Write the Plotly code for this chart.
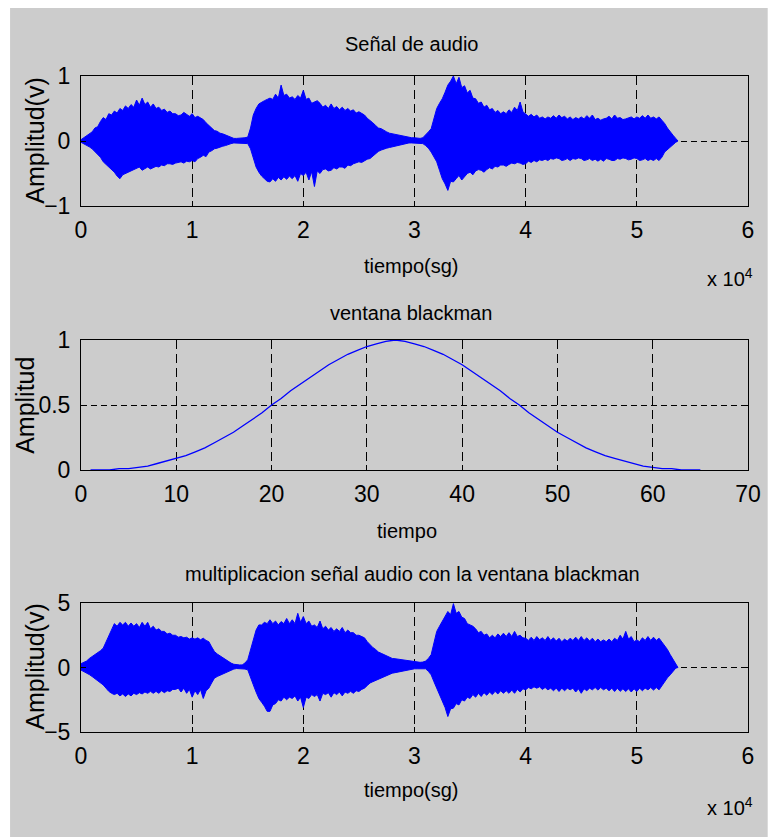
import plotly.graph_objects as go

# ---------------- data ----------------
# sample positions of the envelope readings (every 250 samples, last sample 53700)
audio_x = list(range(0, 53501, 250)) + [53700]

# audio signal: upper / lower peak envelope
audio_hi = [0.02, 0.05, 0.08, 0.12, 0.14, 0.20, 0.22, 0.30, 0.36, 0.33, 0.42, 0.40, 0.46, 0.43,
            0.50, 0.47, 0.54, 0.50, 0.56, 0.52, 0.63, 0.55, 0.66, 0.56, 0.60, 0.52, 0.57, 0.50,
            0.52, 0.47, 0.49, 0.44, 0.46, 0.42, 0.42, 0.39, 0.40, 0.44, 0.41, 0.38, 0.42, 0.36,
            0.38, 0.36, 0.33, 0.28, 0.24, 0.20, 0.16, 0.15, 0.12, 0.11, 0.09, 0.07, 0.05, 0.04,
            0.04, 0.04, 0.04, 0.05, 0.06, 0.20, 0.40, 0.50, 0.57, 0.60, 0.62, 0.64, 0.66, 0.64,
            0.72, 0.66, 0.86, 0.70, 0.72, 0.66, 0.68, 0.64, 0.70, 0.66, 0.78, 0.64, 0.66, 0.58,
            0.60, 0.62, 0.58, 0.52, 0.55, 0.50, 0.57, 0.50, 0.53, 0.48, 0.52, 0.47, 0.50, 0.46,
            0.48, 0.43, 0.45, 0.42, 0.40, 0.35, 0.32, 0.28, 0.24, 0.20, 0.19, 0.16, 0.14, 0.12,
            0.11, 0.10, 0.09, 0.08, 0.08, 0.07, 0.06, 0.05, 0.05, 0.04, 0.04, 0.05, 0.09, 0.14,
            0.19, 0.35, 0.50, 0.58, 0.65, 0.75, 0.86, 0.92, 1.00, 0.88, 0.98, 0.82, 0.85, 0.74,
            0.78, 0.66, 0.65, 0.58, 0.60, 0.52, 0.55, 0.48, 0.50, 0.44, 0.47, 0.42, 0.45, 0.42,
            0.48, 0.44, 0.52, 0.47, 0.60, 0.45, 0.42, 0.38, 0.41, 0.37, 0.40, 0.35, 0.37, 0.34,
            0.37, 0.35, 0.39, 0.35, 0.40, 0.36, 0.38, 0.34, 0.37, 0.33, 0.36, 0.34, 0.37, 0.34,
            0.39, 0.35, 0.40, 0.33, 0.35, 0.32, 0.34, 0.35, 0.38, 0.34, 0.40, 0.35, 0.36, 0.33,
            0.34, 0.35, 0.37, 0.34, 0.37, 0.35, 0.39, 0.35, 0.40, 0.35, 0.37, 0.34, 0.37, 0.32,
            0.27, 0.20, 0.14, 0.09, 0.04, 0.00]
audio_lo = [-0.02, -0.04, -0.06, -0.09, -0.12, -0.16, -0.20, -0.25, -0.32, -0.36, -0.40, -0.44,
            -0.48, -0.54, -0.58, -0.52, -0.50, -0.48, -0.47, -0.44, -0.43, -0.40, -0.45, -0.42,
            -0.40, -0.43, -0.41, -0.39, -0.40, -0.37, -0.38, -0.35, -0.35, -0.36, -0.34, -0.33,
            -0.32, -0.34, -0.31, -0.32, -0.30, -0.32, -0.27, -0.25, -0.22, -0.24, -0.17, -0.15,
            -0.12, -0.11, -0.09, -0.08, -0.07, -0.05, -0.04, -0.03, -0.03, -0.03, -0.03, -0.03,
            -0.04, -0.12, -0.27, -0.40, -0.48, -0.54, -0.58, -0.62, -0.63, -0.58, -0.62, -0.56,
            -0.60, -0.55, -0.59, -0.54, -0.58, -0.53, -0.62, -0.50, -0.53, -0.48, -0.60, -0.47,
            -0.70, -0.46, -0.50, -0.44, -0.43, -0.46, -0.45, -0.41, -0.43, -0.40, -0.40, -0.42,
            -0.37, -0.38, -0.35, -0.33, -0.32, -0.33, -0.30, -0.28, -0.27, -0.23, -0.20, -0.16,
            -0.14, -0.12, -0.11, -0.10, -0.09, -0.07, -0.06, -0.05, -0.04, -0.04, -0.03, -0.03,
            -0.03, -0.03, -0.03, -0.04, -0.07, -0.11, -0.17, -0.25, -0.32, -0.45, -0.58, -0.66,
            -0.76, -0.62, -0.63, -0.58, -0.53, -0.60, -0.55, -0.50, -0.48, -0.52, -0.46, -0.44,
            -0.45, -0.48, -0.44, -0.41, -0.43, -0.39, -0.40, -0.37, -0.37, -0.39, -0.36, -0.34,
            -0.35, -0.33, -0.34, -0.36, -0.35, -0.31, -0.33, -0.30, -0.32, -0.29, -0.30, -0.28,
            -0.30, -0.27, -0.28, -0.26, -0.27, -0.30, -0.29, -0.27, -0.30, -0.27, -0.28, -0.26,
            -0.27, -0.30, -0.29, -0.27, -0.30, -0.28, -0.31, -0.28, -0.31, -0.27, -0.28, -0.30,
            -0.30, -0.27, -0.28, -0.26, -0.27, -0.29, -0.28, -0.26, -0.27, -0.30, -0.29, -0.27,
            -0.30, -0.28, -0.30, -0.27, -0.30, -0.25, -0.17, -0.13, -0.09, -0.05, -0.02, 0.00]

# blackman window samples
win_x = list(range(1, 66))
win_y = [0.00, 0.00, 0.00, 0.01, 0.01, 0.02, 0.03, 0.05, 0.07, 0.09, 0.11, 0.14, 0.17,
         0.21, 0.25, 0.29, 0.34, 0.39, 0.44, 0.50, 0.55, 0.61, 0.66, 0.71, 0.76, 0.81,
         0.85, 0.89, 0.92, 0.95, 0.97, 0.99, 1.00, 0.99, 0.97, 0.95, 0.92, 0.89, 0.85,
         0.81, 0.76, 0.71, 0.66, 0.61, 0.55, 0.50, 0.44, 0.39, 0.34, 0.29, 0.25, 0.21,
         0.17, 0.14, 0.11, 0.09, 0.07, 0.05, 0.03, 0.02, 0.01, 0.01, 0.00, 0.00, 0.00]

# audio x window: upper / lower peak envelope
mult_hi = [0.3, 0.4, 0.5, 0.7, 0.85, 0.95, 1.1, 1.3, 1.5, 2.0, 2.5, 3.0, 3.4, 3.2, 3.5, 3.3,
           3.5, 3.2, 3.45, 3.2, 3.4, 3.1, 3.5, 3.2, 3.5, 3.0, 3.2, 2.9, 3.0, 2.8, 2.8, 2.6,
           2.66, 2.5, 2.5, 2.35, 2.4, 2.3, 2.35, 2.2, 2.3, 2.2, 2.3, 2.15, 2.27, 2.1, 2.0, 1.6,
           1.24, 1.05, 0.9, 0.75, 0.6, 0.45, 0.34, 0.25, 0.2, 0.2, 0.2, 0.35, 0.6, 1.4,
           2.27, 2.9, 3.3, 3.3, 3.5, 3.4, 3.7, 3.4, 3.6, 3.3, 3.56, 3.4, 3.8, 3.4,
           3.7, 3.4, 4.2, 3.5, 3.95, 3.4, 3.6, 3.2, 3.3, 3.1, 3.6, 3.0, 3.2, 2.9,
           3.1, 2.8, 3.0, 2.8, 3.1, 2.7, 2.9, 2.7, 2.7, 2.5, 2.5, 2.4, 2.3, 2.0,
           1.75, 1.55, 1.4, 1.2, 1.1, 1.0, 0.9, 0.8, 0.7, 0.68, 0.65, 0.62, 0.6, 0.55,
           0.5, 0.48, 0.47, 0.42, 0.4, 0.42, 0.5, 0.7, 1.0, 1.9, 2.8, 3.2, 3.56, 4.0,
           4.34, 4.1, 4.95, 4.2, 4.34, 3.9, 3.8, 3.4, 3.3, 3.2, 3.0, 2.7, 2.8, 2.5,
           2.6, 2.3, 2.5, 2.3, 2.6, 2.4, 2.66, 2.4, 2.7, 2.4, 2.8, 2.4, 2.5, 2.3,
           2.27, 2.1, 2.35, 2.1, 2.4, 2.15, 2.3, 2.1, 2.4, 2.1, 2.3, 2.05, 2.27, 2.0,
           2.2, 2.05, 2.27, 2.1, 2.35, 2.1, 2.4, 2.1, 2.3, 2.05, 2.27, 2.0, 2.2, 2.0,
           2.14, 2.0, 2.2, 2.0, 2.27, 2.1, 2.5, 2.2, 2.8, 2.2, 2.4, 2.0, 2.14, 2.0,
           2.3, 2.1, 2.4, 2.1, 2.35, 2.1, 2.27, 2.0, 1.75, 1.4, 1.0, 0.6, 0.2, 0.0]
mult_lo = [-0.2, -0.3, -0.4, -0.55, -0.7, -0.85, -1.0, -1.15, -1.35, -1.6, -1.85, -2.0, -2.1,
           -2.0, -2.2, -2.05, -2.25, -2.05, -2.2, -2.0, -2.1, -1.95, -2.05, -1.9, -2.0, -1.85,
           -2.0, -1.85, -2.0, -1.8, -1.95, -1.8, -1.86, -1.7, -1.7, -1.6, -1.9, -1.6, -2.0,
           -1.7, -2.3, -1.8, -2.1, -1.7, -2.4, -1.8, -1.6, -1.2, -0.83, -0.7, -0.6, -0.5,
           -0.44, -0.3, -0.18, -0.12, -0.08, -0.08, -0.08, -0.12, -0.18, -0.7, -1.34, -1.9,
           -2.4, -2.7, -3.0, -3.4, -3.4, -2.9, -2.8, -2.5, -2.6, -2.3, -2.5, -2.3, -2.4,
           -2.2, -2.6, -2.3, -3.1, -2.3, -2.4, -2.1, -2.25, -2.1, -2.6, -2.0, -2.1, -1.95,
           -2.3, -1.95, -2.1, -1.9, -2.2, -1.9, -2.0, -1.85, -2.0, -1.8, -1.86, -1.7, -1.6,
           -1.4, -1.2, -1.1, -1.0, -0.9, -0.83, -0.7, -0.6, -0.5, -0.44, -0.4, -0.35, -0.33,
           -0.31, -0.25, -0.2, -0.15, -0.1, -0.1, -0.1, -0.1, -0.1, -0.3, -0.57, -1.1, -1.6,
           -2.1, -2.6, -3.1, -3.8, -3.2, -3.15, -2.8, -2.9, -2.5, -2.6, -2.3, -2.4, -2.1,
           -2.3, -2.0, -2.25, -1.95, -2.15, -1.9, -2.1, -1.85, -2.05, -1.8, -2.0, -1.8, -2.0,
           -1.75, -2.0, -1.7, -1.9, -1.65, -1.73, -1.55, -1.65, -1.5, -1.6, -1.5, -1.7, -1.55,
           -1.73, -1.6, -1.8, -1.6, -1.86, -1.6, -1.8, -1.6, -1.73, -1.6, -1.9, -1.65, -2.0,
           -1.65, -1.8, -1.6, -1.73, -1.55, -1.75, -1.55, -1.73, -1.6, -1.8, -1.6, -1.86,
           -1.6, -1.85, -1.65, -1.86, -1.65, -1.9, -1.65, -1.86, -1.6, -1.8, -1.6, -1.73,
           -1.55, -1.75, -1.55, -1.73, -1.4, -1.08, -0.8, -0.57, -0.3, -0.05, 0.0]

# tick labels
big_tickvals = [0, 10000, 20000, 30000, 40000, 50000, 60000]
big_ticktext = ["0", "1", "2", "3", "4", "5", "6"]
win_tickvals = [0, 10, 20, 30, 40, 50, 60, 70]

titles = ["Señal de audio", "ventana blackman",
          "multiplicacion señal audio con la ventana blackman"]

# ---------------- figure ----------------
W, H = 773, 837
ML, MR, MT, MB = 81, 15, 76, 105
PW, PH = W - ML - MR, H - MT - MB
BLUE = "#0000ff"
GRAY = "#cccccc"
FONT = "Liberation Sans Narrow, Arial Narrow, Liberation Sans, Arial, sans-serif"


def px(x):
    return (x - ML) / PW


def py(y):
    return (H - MB - y) / PH


fig = go.Figure()

# subplot 1 : audio
fig.add_trace(go.Scatter(x=audio_x, y=audio_hi, mode="lines", line=dict(color=BLUE, width=1),
                         xaxis="x", yaxis="y", showlegend=False, hoverinfo="skip"))
fig.add_trace(go.Scatter(x=audio_x, y=audio_lo, mode="lines", line=dict(color=BLUE, width=1),
                         fill="tonexty", fillcolor=BLUE,
                         xaxis="x", yaxis="y", showlegend=False, hoverinfo="skip"))
# subplot 2 : window
fig.add_trace(go.Scatter(x=win_x, y=win_y, mode="lines", line=dict(color=BLUE, width=1.3),
                         xaxis="x2", yaxis="y2", showlegend=False))
# subplot 3 : product
fig.add_trace(go.Scatter(x=audio_x, y=mult_hi, mode="lines", line=dict(color=BLUE, width=1),
                         xaxis="x3", yaxis="y3", showlegend=False, hoverinfo="skip"))
fig.add_trace(go.Scatter(x=audio_x, y=mult_lo, mode="lines", line=dict(color=BLUE, width=1),
                         fill="tonexty", fillcolor=BLUE,
                         xaxis="x3", yaxis="y3", showlegend=False, hoverinfo="skip"))

tickfont = dict(family=FONT, size=23, color="black")
common = dict(showline=True, linecolor="black", linewidth=1, mirror="ticks",
              ticks="inside", ticklen=5, tickcolor="black", tickwidth=1,
              showgrid=True, gridcolor="black", gridwidth=1, zeroline=False,
              tickfont=tickfont, fixedrange=True)

doms = [[py(206), py(76)], [py(470), py(340)], [py(732), py(603)]]

fig.update_layout(
    width=W, height=H,
    margin=dict(l=ML, r=MR, t=MT, b=MB),
    paper_bgcolor="white", plot_bgcolor="white",
    font=dict(family=FONT, color="black"),
    xaxis=dict(domain=[0, 1], range=[0, 60000], tickvals=big_tickvals, ticktext=big_ticktext,
               anchor="y", griddash="9px,5px", ticklabelstandoff=3, **common),
    yaxis=dict(domain=doms[0], range=[-1, 1], tickvals=[-1, 0, 1], anchor="x",
               griddash="6px,4px", ticklabelstandoff=5, **common),
    xaxis2=dict(domain=[0, 1], range=[0, 70], tickvals=win_tickvals, anchor="y2",
                griddash="9px,5px", ticklabelstandoff=3, **common),
    yaxis2=dict(domain=doms[1], range=[0, 1], tickvals=[0, 0.5, 1], anchor="x2",
                griddash="6px,4px", ticklabelstandoff=5, **common),
    xaxis3=dict(domain=[0, 1], range=[0, 60000], tickvals=big_tickvals, ticktext=big_ticktext,
                anchor="y3", griddash="9px,5px", ticklabelstandoff=3, **common),
    yaxis3=dict(domain=doms[2], range=[-5, 5], tickvals=[-5, 0, 5], anchor="x3",
                griddash="6px,4px", ticklabelstandoff=5, **common),
)

# gray figure background (MATLAB style) with white strip at top/left
fig.add_shape(type="rect", xref="paper", yref="paper", layer="below",
              x0=px(9), x1=px(W + 5), y0=py(H + 5), y1=py(8),
              fillcolor=GRAY, line=dict(width=0))


def label(text, x, y, angle=0, xanchor="center", size=20):
    fig.add_annotation(text=text, x=px(x), y=py(y), xref="paper", yref="paper",
                       showarrow=False, textangle=angle, xanchor=xanchor, yanchor="middle",
                       font=dict(family=FONT, size=size, color="black"))


# titles
label(titles[0], 416, 44)
label(titles[1], 416, 313)
label(titles[2], 417, 574)
# x labels
label("tiempo(sg)", 416, 266)
label("tiempo", 412, 531)
label("tiempo(sg)", 416, 790)
# y labels
label("Amplitud(v)", 34, 141, angle=-90, size=25)
label("Amplitud", 24, 405, angle=-90, size=25)
label("Amplitud(v)", 34, 667, angle=-90, size=25)
# exponent labels
label("x 10<sup>4</sup>", 765, 277, xanchor="right")
label("x 10<sup>4</sup>", 765, 806, xanchor="right")

fig.write_html("out.html")
